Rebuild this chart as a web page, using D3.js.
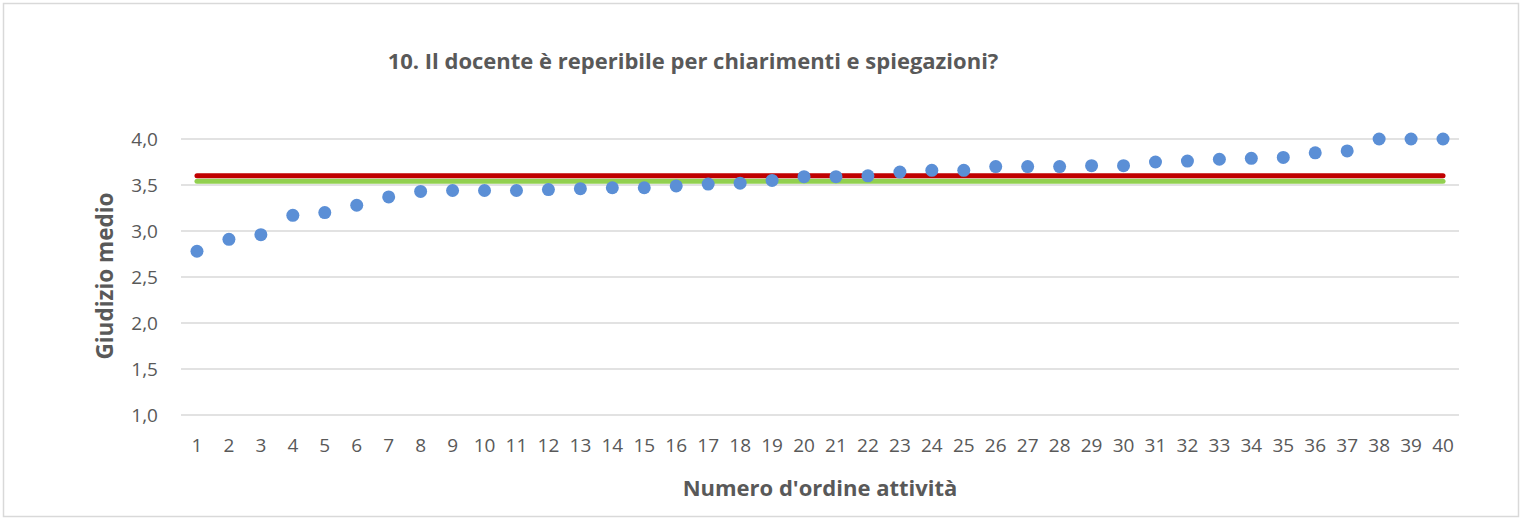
<!DOCTYPE html>
<html>
<head>
<meta charset="utf-8">
<script src="https://cdn.jsdelivr.net/npm/d3@7"></script>
<style>
  body { margin: 0; background: #fff; }
  text { font-family: 'Open Sans', sans-serif; }
</style>
</head>
<body>
<div id="chart"></div>
<script>
const title = '10. Il docente è reperibile per chiarimenti e spiegazioni?'
const xTitle = "Numero d'ordine attività"
const yTitle = 'Giudizio medio'

const activities = d3.range(1, 41)
const scores = [
  2.78, 2.91, 2.96, 3.17, 3.2, 3.28, 3.37, 3.43, 3.44, 3.44,
  3.44, 3.45, 3.46, 3.47, 3.47, 3.49, 3.51, 3.52, 3.55, 3.59,
  3.59, 3.6, 3.64, 3.66, 3.66, 3.7, 3.7, 3.7, 3.71, 3.71,
  3.75, 3.76, 3.78, 3.79, 3.8, 3.85, 3.87, 4.0, 4.0, 4.0
]
const redMean = 3.6
const greenMean = 3.54
const yTicks = [1, 1.5, 2, 2.5, 3, 3.5, 4]

const margin = { top: 139, left: 181, right: 63, bottom: 105 }
const width = 1522 - margin.left - margin.right
const height = 520 - margin.top - margin.bottom

const svgRoot = d3
  .select('#chart')
  .append('svg')
  .attr('width', 1522)
  .attr('height', 520)

svgRoot
  .append('rect')
  .attr('x', 3.5)
  .attr('y', 3.5)
  .attr('width', 1515)
  .attr('height', 513)
  .attr('fill', '#fff')
  .attr('stroke', '#d9d9d9')
  .attr('stroke-width', 1.5)

const svg = svgRoot
  .append('g')
  .attr('transform', 'translate(' + margin.left + ',' + margin.top + ')')

const x = d3.scaleBand().domain(activities).range([0, width])
const y = d3.scaleLinear().domain([1, 4]).range([height, 0])

// gridlines
svg
  .selectAll('.grid')
  .data(yTicks)
  .enter()
  .append('line')
  .attr('class', 'grid')
  .attr('x1', 0)
  .attr('x2', width)
  .attr('y1', d => y(d))
  .attr('y2', d => y(d))
  .attr('stroke', '#d9d9d9')
  .attr('stroke-width', 1.5)

// y axis labels
const yAxis = svg
  .append('g')
  .attr('transform', 'translate(-9,0)')
  .call(d3.axisLeft(y).tickValues(yTicks).tickSize(0).tickPadding(14)
    .tickFormat(d => d3.format('.1f')(d).replace('.', ',')))
yAxis.select('.domain').remove()
yAxis.selectAll('text').attr('fill', '#595959').style('font-size', '19px')

// x axis labels
const xAxis = svg
  .append('g')
  .attr('transform', `translate(0,${height})`)
  .call(d3.axisBottom(x).tickSize(0).tickPadding(24))
xAxis.select('.domain').remove()
xAxis.selectAll('text').attr('fill', '#595959').style('font-size', '19px')

// mean lines
const meanLine = (val, color) => {
  svg
    .append('line')
    .attr('x1', x(1) + x.bandwidth() / 2)
    .attr('x2', x(40) + x.bandwidth() / 2)
    .attr('y1', y(val))
    .attr('y2', y(val))
    .attr('stroke', color)
    .attr('stroke-width', 5)
    .attr('stroke-linecap', 'round')
}
meanLine(greenMean, '#92d050')
meanLine(redMean, '#c00000')

// points
svg
  .selectAll('circle')
  .data(scores)
  .enter()
  .append('circle')
  .attr('cx', (d, i) => x(activities[i]) + x.bandwidth() / 2)
  .attr('cy', d => y(d))
  .attr('r', 6.5)
  .attr('fill', '#5b8fd6')

// titles
svgRoot
  .append('text')
  .text(title)
  .attr('x', 693)
  .attr('y', 69)
  .attr('text-anchor', 'middle')
  .attr('fill', '#595959')
  .style('font-size', '22px')
  .style('font-weight', 700)

svgRoot
  .append('text')
  .text(xTitle)
  .attr('x', margin.left + width / 2)
  .attr('y', 496)
  .attr('text-anchor', 'middle')
  .attr('fill', '#595959')
  .style('font-size', '22px')
  .style('font-weight', 700)

svgRoot
  .append('text')
  .text(yTitle)
  .attr('transform', 'translate(113,276) rotate(-90)')
  .attr('text-anchor', 'middle')
  .attr('fill', '#595959')
  .style('font-size', '22.5px')
  .style('font-weight', 700)
</script>
</body>
</html>
